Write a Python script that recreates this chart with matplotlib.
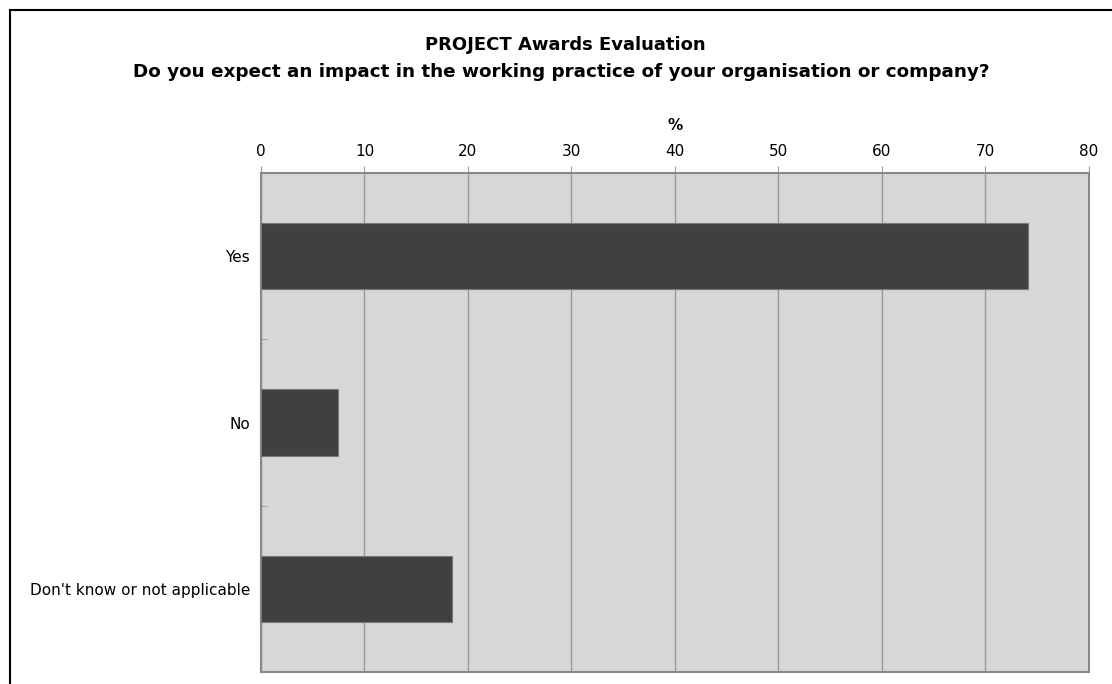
import matplotlib
matplotlib.use("Agg")
import matplotlib.pyplot as plt
from matplotlib.lines import Line2D

categories = ["Yes", "No", "Don't know or not applicable"]
values = [74.1, 7.4, 18.5]
xticks = [0, 10, 20, 30, 40, 50, 60, 70, 80]

plt.rcParams['font.family'] = ['DejaVu Sans']

fig = plt.figure(figsize=(11.12, 6.84), dpi=100)
ax = fig.add_axes([0.2347, 0.0175, 0.7446, 0.7296])

pos = list(range(len(categories)))
ax.barh(pos, values, height=0.4, color="#404040", edgecolor="#777777", linewidth=0.8, zorder=3)
ax.set_ylim(len(categories) - 0.5, -0.5)
ax.set_xlim(0, 80)
ax.set_facecolor("#d7d7d7")
ax.set_xticks(xticks)
ax.xaxis.tick_top()
ax.xaxis.set_label_position("top")
ax.set_xlabel("%", fontsize=11, fontweight="bold", labelpad=10)
ax.tick_params(axis="x", length=5, color="#999999", labelsize=11, pad=5)
ax.set_yticks(pos)
ax.set_yticklabels(categories, fontsize=11)
ax.set_yticks([0.5, 1.5], minor=True)
ax.tick_params(axis="y", which="major", length=0, pad=8)
ax.tick_params(axis="y", which="minor", length=4, direction="in", color="#999999")
ax.grid(axis="x", color="#999999", linewidth=1, zorder=0)
ax.set_axisbelow(True)
for s in ax.spines.values():
    s.set_color("#888888")
    s.set_linewidth(1.5)

fig.text(0.508, 0.934, "PROJECT Awards Evaluation", ha="center", va="center",
         fontsize=13, fontweight="bold")
fig.text(0.505, 0.895, "Do you expect an impact in the working practice of your organisation or company?",
         ha="center", va="center", fontsize=13.2, fontweight="bold")

# frame around the chart (top and left edges)
fig.add_artist(Line2D([10 / 1112, 10 / 1112], [0, 1 - 10 / 684], transform=fig.transFigure, color="black", linewidth=1.5))
fig.add_artist(Line2D([10 / 1112, 1], [1 - 10 / 684, 1 - 10 / 684], transform=fig.transFigure, color="black", linewidth=1.5))

fig.savefig("out.png", dpi=100)
